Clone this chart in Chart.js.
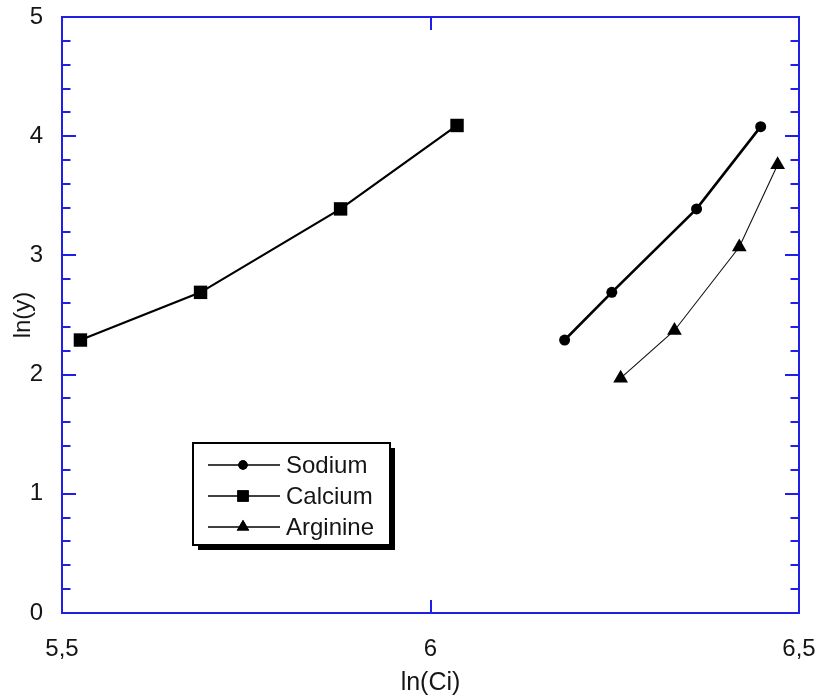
<!DOCTYPE html>
<html>
<head>
<meta charset="utf-8">
<script src="https://cdn.jsdelivr.net/npm/chart.js@4.4.1/dist/chart.umd.min.js"></script>
<style>
  html, body { margin: 0; padding: 0; background: #fff; }
  #wrap { position: relative; width: 821px; height: 699px; }
</style>
</head>
<body>
<div id="wrap"><canvas id="chart"></canvas></div>
<script>
// ln(y) versus ln(Ci) for the three ions
const sodiumX = [6.182, 6.246, 6.361, 6.448];
const sodiumY = [2.29, 2.69, 3.39, 4.08];
const calciumX = [5.525, 5.688, 5.878, 6.036];
const calciumY = [2.29, 2.69, 3.39, 4.09];
const arginineX = [6.258, 6.331, 6.419, 6.471];
const arginineY = [1.97, 2.37, 3.07, 3.76];

const seriesNames = ['Sodium', 'Calcium', 'Arginine'];
const xTickValues = [5.5, 6, 6.5];
const xTickLabels = ['5,5', '6', '6,5'];
const yTickValues = [0, 1, 2, 3, 4, 5];
const yTickLabels = ['0', '1', '2', '3', '4', '5'];

const AXIS_BLUE = '#1f1fe8';
const TEXT = '#151515';
const FONT = 'Liberation Sans, Arial, sans-serif';

function toPoints(xs, ys) {
    return xs.map((x, i) => ({ x: x, y: ys[i] }));
}

// Boxed frame with inward ticks on all four sides
const frameTicks = {
    id: 'frameTicks',
    afterDraw: chart => {
        const { ctx, chartArea: { left, right, top, bottom } } = chart;
        const xs = chart.scales.x, ys = chart.scales.y;
        ctx.save();
        ctx.strokeStyle = AXIS_BLUE;
        ctx.lineWidth = 2;
        ctx.strokeRect(left, top, right - left, bottom - top);
        ctx.beginPath();
        // y ticks: minor every 0.2, major on integers
        for (let i = 0; i <= 25; i++) {
            const v = i * 0.2;
            const py = Math.round(ys.getPixelForValue(v));
            const len = (i % 5 === 0) ? 14 : 8.5;
            ctx.moveTo(left, py); ctx.lineTo(left + len, py);
            ctx.moveTo(right, py); ctx.lineTo(right - len, py);
        }
        // x tick at 6 on top and bottom
        const px = Math.round(xs.getPixelForValue(6));
        ctx.moveTo(px, bottom); ctx.lineTo(px, bottom - 13);
        ctx.moveTo(px, top); ctx.lineTo(px, top + 13);
        ctx.stroke();
        ctx.restore();
    }
};

// Legend box with drop shadow
const boxLegend = {
    id: 'boxLegend',
    afterDraw: chart => {
        const { ctx } = chart;
        const bx = 193, by = 443, bw = 197, bh = 102;
        ctx.save();
        ctx.fillStyle = '#000';
        ctx.fillRect(bx + 5, by + 5, bw, bh);
        ctx.fillStyle = '#fff';
        ctx.fillRect(bx, by, bw, bh);
        ctx.strokeStyle = '#000';
        ctx.lineWidth = 2;
        ctx.strokeRect(bx, by, bw, bh);

        chart.data.datasets.forEach((ds, i) => {
            const ry = 465 + i * 31;
            ctx.strokeStyle = '#000';
            ctx.lineWidth = 1.5;
            ctx.beginPath();
            ctx.moveTo(208, ry);
            ctx.lineTo(280, ry);
            ctx.stroke();
            ctx.fillStyle = '#000';
            Chart.helpers.drawPoint(ctx, {
                pointStyle: ds.pointStyle,
                radius: ds.pointRadius * 0.85,
                rotation: 0,
                borderWidth: 0
            }, 243, ry);
            ctx.fill();
            ctx.fillStyle = TEXT;
            ctx.font = '24px ' + FONT;
            ctx.textBaseline = 'middle';
            ctx.textAlign = 'left';
            ctx.fillText(ds.label, 286, ry + 1);
        });
        ctx.restore();
    }
};

const ctx = document.getElementById('chart');
new Chart(ctx, {
    type: 'scatter',
    data: {
        datasets: [
            {
                label: seriesNames[0],
                data: toPoints(sodiumX, sodiumY),
                showLine: true,
                borderColor: '#000',
                backgroundColor: '#000',
                borderWidth: 2.6,
                pointStyle: 'circle',
                pointRadius: 5.5,
                pointBorderWidth: 0
            },
            {
                label: seriesNames[1],
                data: toPoints(calciumX, calciumY),
                showLine: true,
                borderColor: '#000',
                backgroundColor: '#000',
                borderWidth: 2.2,
                pointStyle: 'rect',
                pointRadius: 9.5,
                pointBorderWidth: 0
            },
            {
                label: seriesNames[2],
                data: toPoints(arginineX, arginineY),
                showLine: true,
                borderColor: '#111',
                backgroundColor: '#000',
                borderWidth: 1.1,
                pointStyle: 'triangle',
                pointRadius: 8.5,
                pointBorderWidth: 0
            }
        ]
    },
    options: {
        responsive: true,
        maintainAspectRatio: false,
        animation: false,
        layout: { padding: { top: 17, right: 22, left: 0, bottom: 0 } },
        plugins: {
            legend: { display: false },
            tooltip: { enabled: false }
        },
        scales: {
            x: {
                type: 'linear',
                min: 5.5,
                max: 6.5,
                afterBuildTicks: scale => {
                    scale.ticks = xTickValues.map(v => ({ value: v }));
                },
                afterFit: scale => {
                    scale.height = 86;
                    scale.paddingLeft = 0;
                    scale.paddingRight = 0;
                },
                grid: { display: false, drawTicks: false },
                border: { display: false },
                ticks: {
                    color: TEXT,
                    font: { size: 24, family: FONT },
                    padding: 22,
                    maxRotation: 0,
                    callback: (v, i) => xTickLabels[i]
                },
                title: {
                    display: true,
                    text: 'ln(Ci)',
                    color: TEXT,
                    font: { size: 25, family: FONT },
                    padding: { top: 0, bottom: 1 }
                }
            },
            y: {
                type: 'linear',
                min: 0,
                max: 5,
                afterBuildTicks: scale => {
                    scale.ticks = yTickValues.map(v => ({ value: v }));
                },
                afterFit: scale => {
                    scale.width = 62;
                    scale.paddingTop = 0;
                    scale.paddingBottom = 0;
                },
                grid: { display: false, drawTicks: false },
                border: { display: false },
                ticks: {
                    color: TEXT,
                    font: { size: 24, family: FONT },
                    padding: 19,
                    callback: (v, i) => yTickLabels[i]
                },
                title: {
                    display: true,
                    text: 'ln(y)',
                    color: TEXT,
                    font: { size: 24, family: FONT },
                    padding: { top: 9, bottom: 0 }
                }
            }
        }
    },
    plugins: [frameTicks, boxLegend]
});
</script>
</body>
</html>
